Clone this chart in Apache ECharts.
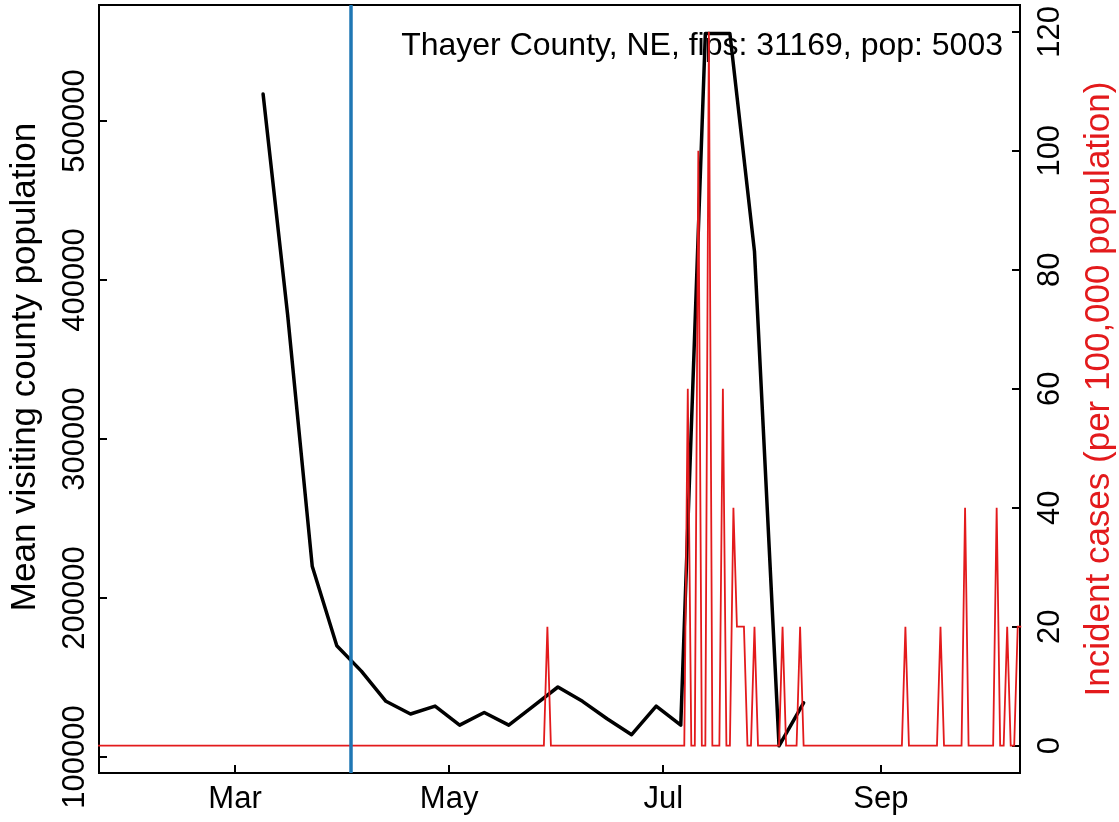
<!DOCTYPE html>
<html>
<head>
<meta charset="utf-8">
<title>Thayer County, NE</title>
<script src="https://cdn.jsdelivr.net/npm/echarts@6/dist/echarts.min.js"></script>
<style>
  html, body { margin: 0; padding: 0; background: #fff; }
  #main { width: 1119px; height: 822px; }
</style>
</head>
<body>
<div id="main"></div>
<script>
// 周均访客人数（黑线）
var mobilityDates = [
  '2020-03-09', '2020-03-16', '2020-03-23', '2020-03-30',
  '2020-04-06', '2020-04-13', '2020-04-20', '2020-04-27',
  '2020-05-04', '2020-05-11', '2020-05-18', '2020-05-25',
  '2020-06-01', '2020-06-08', '2020-06-15', '2020-06-22', '2020-06-29',
  '2020-07-06', '2020-07-13', '2020-07-20', '2020-07-27',
  '2020-08-03', '2020-08-10'
];
var mobilityValues = [
  517000, 378000, 220000, 170000,
  154000, 135000, 127000, 132000,
  120000, 128000, 120000, 132000,
  144000, 135000, 124000, 114000, 132000,
  120000, 555000, 555000, 418000,
  107000, 134000
];

// 每日新增病例（每十万人），从 1月22日 开始
var casesStart = '2020-01-22';
var casesJan = [0, 0, 0, 0, 0, 0, 0, 0, 0, 0];
var casesFeb = [0, 0, 0, 0, 0, 0, 0, 0, 0, 0, 0, 0, 0, 0, 0, 0, 0, 0, 0, 0, 0, 0, 0, 0, 0, 0, 0, 0, 0];
var casesMar = [0, 0, 0, 0, 0, 0, 0, 0, 0, 0, 0, 0, 0, 0, 0, 0, 0, 0, 0, 0, 0, 0, 0, 0, 0, 0, 0, 0, 0, 0, 0];
var casesApr = [0, 0, 0, 0, 0, 0, 0, 0, 0, 0, 0, 0, 0, 0, 0, 0, 0, 0, 0, 0, 0, 0, 0, 0, 0, 0, 0, 0, 0, 0];
var casesMay = [0, 0, 0, 0, 0, 0, 0, 0, 0, 0, 0, 0, 0, 0, 0, 0, 0, 0, 0, 0, 0, 0, 0, 0, 0, 0, 0, 0, 20, 0, 0];
var casesJun = [0, 0, 0, 0, 0, 0, 0, 0, 0, 0, 0, 0, 0, 0, 0, 0, 0, 0, 0, 0, 0, 0, 0, 0, 0, 0, 0, 0, 0, 0];
var casesJul = [0, 0, 0, 0, 0, 0, 0, 60, 0, 0, 100, 0, 0, 120, 0, 0, 0, 60, 0, 0, 40, 20, 20, 20, 0, 0, 20, 0, 0, 0, 0];
var casesAug = [0, 0, 0, 20, 0, 0, 0, 0, 20, 0, 0, 0, 0, 0, 0, 0, 0, 0, 0, 0, 0, 0, 0, 0, 0, 0, 0, 0, 0, 0, 0];
var casesSep = [0, 0, 0, 0, 0, 0, 0, 20, 0, 0, 0, 0, 0, 0, 0, 0, 0, 20, 0, 0, 0, 0, 0, 0, 40, 0, 0, 0, 0, 0];
var casesOct = [0, 0, 0, 40, 0, 0, 20, 0, 0, 20, 20];

// 刻度
var monthTicks = ['2020-03-01', '2020-05-01', '2020-07-01', '2020-09-01'];
var monthLabels = ['Mar', 'May', 'Jul', 'Sep'];
var leftTicks = [100000, 200000, 300000, 400000, 500000];
var rightTicks = [0, 20, 40, 60, 80, 100, 120];

// 居家令日期（蓝线）
var orderDate = '2020-04-03';
var titleText = 'Thayer County, NE, fips: 31169, pop: 5003';

var FONT = '"Liberation Sans", Arial, Helvetica, sans-serif';
var DAY = 86400000;

function toTime(s) {
  return Date.parse(s);
}

var caseValues = casesJan.concat(casesFeb, casesMar, casesApr, casesMay,
  casesJun, casesJul, casesAug, casesSep, casesOct);
var caseData = caseValues.map(function (v, i) {
  return [toTime(casesStart) + i * DAY, v];
});
var mobilityData = mobilityDates.map(function (d, i) {
  return [toTime(d), mobilityValues[i]];
});
var tickTimes = monthTicks.map(toTime);

var chart = echarts.init(document.getElementById('main'));

var option = {
  animation: false,
  backgroundColor: '#fff',
  textStyle: { fontFamily: FONT },
  grid: {
    left: 99, right: 99, top: 5, bottom: 49,
    containLabel: false,
    outerBoundsMode: 'none',
    show: true, borderColor: '#000', borderWidth: 2,
    backgroundColor: 'transparent'
  },
  graphic: [{
    type: 'text',
    right: 116,
    top: 30,
    z: 0,
    style: {
      text: titleText,
      fill: '#000',
      font: '32px ' + FONT
    }
  }],
  // 横轴用时间戳数值
  xAxis: {
    type: 'value',
    min: toTime('2020-01-22') + 0.25 * DAY,
    max: toTime('2020-10-10') + 0.65 * DAY,
    axisLine: { show: true, onZero: false, lineStyle: { color: '#000', width: 2 } },
    axisTick: {
      show: true, inside: true, length: 8,
      customValues: tickTimes,
      lineStyle: { color: '#000', width: 2 }
    },
    axisLabel: {
      customValues: tickTimes,
      color: '#000', fontSize: 31, margin: 11, fontFamily: FONT,
      formatter: function (v) {
        var i = tickTimes.indexOf(v);
        return i < 0 ? '' : monthLabels[i];
      }
    },
    splitLine: { show: false }
  },
  yAxis: [{
    type: 'value',
    position: 'left',
    min: 89900,
    max: 573000,
    name: 'Mean visiting county population',
    nameLocation: 'middle',
    nameRotate: 90,
    nameGap: 56,
    nameTextStyle: { color: '#000', fontSize: 35, fontFamily: FONT, padding: [0, 0, 0, 44] },
    axisLine: { show: true, lineStyle: { color: '#000', width: 2 } },
    axisTick: {
      show: true, inside: true, length: 8,
      customValues: leftTicks,
      lineStyle: { color: '#000', width: 2 }
    },
    axisLabel: {
      customValues: leftTicks,
      rotate: 90, color: '#000', fontSize: 31, margin: 8, fontFamily: FONT,
      formatter: function (v) {
        return String(v);
      }
    },
    splitLine: { show: false }
  }, {
    type: 'value',
    position: 'right',
    min: -4.6,
    max: 124.5,
    name: 'Incident cases (per 100,000 population)',
    nameLocation: 'middle',
    nameRotate: 90,
    nameGap: 62,
    nameTextStyle: { color: '#e31a1c', fontSize: 35, fontFamily: FONT },
    axisLine: { show: true, lineStyle: { color: '#000', width: 2 } },
    axisTick: {
      show: true, inside: true, length: 8,
      customValues: rightTicks,
      lineStyle: { color: '#000', width: 2 }
    },
    axisLabel: {
      customValues: rightTicks,
      rotate: 90, color: '#000', fontSize: 31, margin: 15, fontFamily: FONT
    },
    splitLine: { show: false }
  }],
  series: [{
    name: 'mobility',
    type: 'line',
    yAxisIndex: 0,
    data: mobilityData,
    showSymbol: false,
    symbol: 'none',
    z: 2,
    lineStyle: { color: '#000', width: 3.5, join: 'round', cap: 'round' }
  }, {
    name: 'cases',
    type: 'line',
    yAxisIndex: 1,
    data: caseData,
    showSymbol: false,
    symbol: 'none',
    z: 3,
    lineStyle: { color: '#e31a1c', width: 1.8, join: 'miter' },
    // 蓝色竖线
    markLine: {
      silent: true,
      symbol: ['none', 'none'],
      label: { show: false },
      lineStyle: { color: '#1f77b4', width: 3.5, type: 'solid' },
      data: [{ xAxis: toTime(orderDate) }]
    }
  }]
};

chart.setOption(option);
</script>
</body>
</html>
